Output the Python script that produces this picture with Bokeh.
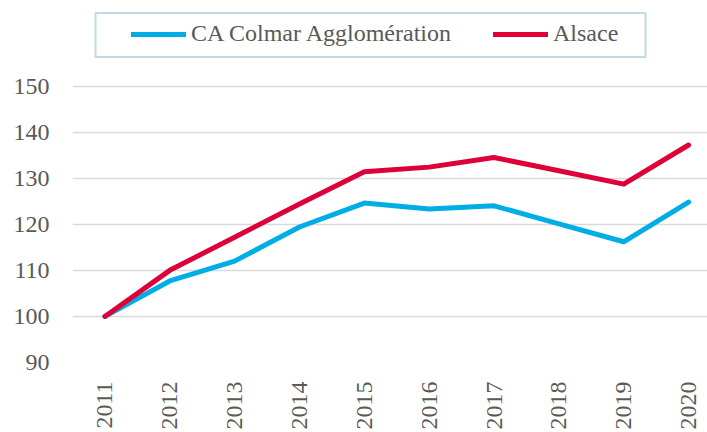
from bokeh.plotting import figure
from bokeh.models import Range1d, FixedTicker, Legend, LegendItem, BoxAnnotation
from bokeh.embed import file_html
from bokeh.resources import INLINE

years = [2011, 2012, 2013, 2014, 2015, 2016, 2017, 2018, 2019, 2020]
colmar = [100, 107.7, 112.0, 119.4, 124.6, 123.3, 124.0, 120.1, 116.2, 124.8]
alsace = [100, 110.0, 117.2, 124.4, 131.4, 132.4, 134.5, 131.6, 128.7, 137.2]
y_ticks = [90, 100, 110, 120, 130, 140, 150]
series_names = ["CA Colmar Agglomération", "Alsace"]

FONT = "Liberation Serif"
TXT = "#595959"
BLUE = "#00ADE5"
RED = "#DD0039"

# frame spans the full top of the canvas so the legend (drawn inside it) is not clipped;
# y range end chosen so that 150 lands where the reference's top gridline is
p = figure(width=707, height=432, output_backend="svg", toolbar_location=None,
           x_range=Range1d(2010.5, 2020.292), y_range=Range1d(90, 168.56),
           min_border_left=72, min_border_right=0, min_border_top=0, min_border_bottom=68)
p.outline_line_color = None
p.xgrid.grid_line_color = None
p.ygrid.grid_line_color = "#D9D9D9"
p.ygrid.grid_line_width = 1.5

p.yaxis.ticker = FixedTicker(ticks=y_ticks)
p.xaxis.ticker = FixedTicker(ticks=years)
for ax in (p.xaxis[0], p.yaxis[0]):
    ax.axis_line_color = None
    ax.major_tick_line_color = None
    ax.minor_tick_line_color = None
    ax.major_tick_out = 0
    ax.major_tick_in = 0
    ax.major_label_text_font = FONT
    ax.major_label_text_font_size = "24px"
    ax.major_label_text_color = TXT
p.xaxis.major_label_orientation = 1.5707963
p.xaxis.major_label_standoff = 19
p.yaxis.major_label_standoff = 23

r1 = p.line(years, colmar, line_color=BLUE, line_width=5, line_cap="round", line_join="round")
r2 = p.line(years, alsace, line_color=RED, line_width=5, line_cap="round", line_join="round")

box = BoxAnnotation(left=95, right=645, top=12.5, bottom=56.5,
                    left_units="canvas", right_units="canvas", top_units="canvas", bottom_units="canvas",
                    fill_alpha=0, line_color="#31849B", line_width=2, level="annotation")
p.add_layout(box)

legend = Legend(items=[LegendItem(label=series_names[0], renderers=[r1]),
                       LegendItem(label=series_names[1], renderers=[r2])],
                orientation="horizontal", location=(59, 315), spacing=42,
                glyph_width=55, label_standoff=5, padding=8, margin=0,
                border_line_color=None, background_fill_alpha=0,
                label_text_font=FONT, label_text_font_size="24px", label_text_color=TXT)
p.add_layout(legend)

open("out.html", "w").write(file_html(p, INLINE))
